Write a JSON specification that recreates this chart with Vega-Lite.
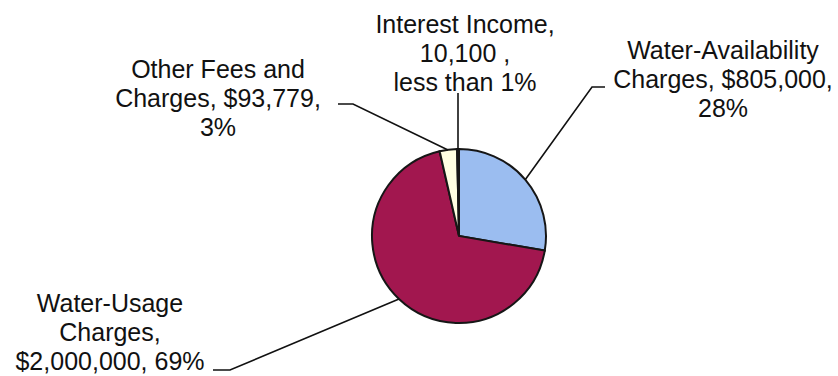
{
  "$schema": "https://vega.github.io/schema/vega-lite/v6.json",
  "width": 838,
  "height": 376,
  "autosize": {"type": "none"},
  "padding": 0,
  "background": "white",
  "config": {"view": {"stroke": null}},
  "datasets": {
    "slices": [
      {"category": "Water-Availability Charges", "value": 805000},
      {"category": "Water-Usage Charges", "value": 2000000},
      {"category": "Other Fees and Charges", "value": 93779},
      {"category": "Interest Income", "value": 10100}
    ],
    "labels": [
      {"category": "Water-Availability Charges", "label": "Water-Availability\nCharges, $805,000,\n28%", "x": 264, "y": 185},
      {"category": "Water-Usage Charges", "label": "Water-Usage\nCharges,\n$2,000,000, 69%", "x": -349, "y": -68},
      {"category": "Other Fees and Charges", "label": "Other Fees and\nCharges, $93,779,\n3%", "x": -241, "y": 166},
      {"category": "Interest Income", "label": "Interest Income,\n10,100 ,\nless than 1%", "x": 6, "y": 211}
    ],
    "leaders": [
      {"category": "Water-Availability Charges", "pt": 0, "x": 66, "y": 56},
      {"category": "Water-Availability Charges", "pt": 1, "x": 133, "y": 149},
      {"category": "Water-Availability Charges", "pt": 2, "x": 146, "y": 149},
      {"category": "Water-Usage Charges", "pt": 0, "x": -60, "y": -63},
      {"category": "Water-Usage Charges", "pt": 1, "x": -229, "y": -134},
      {"category": "Water-Usage Charges", "pt": 2, "x": -246, "y": -134},
      {"category": "Other Fees and Charges", "pt": 0, "x": -11, "y": 86},
      {"category": "Other Fees and Charges", "pt": 1, "x": -106, "y": 132},
      {"category": "Other Fees and Charges", "pt": 2, "x": -121, "y": 132},
      {"category": "Interest Income", "pt": 0, "x": -1, "y": 87},
      {"category": "Interest Income", "pt": 1, "x": -1, "y": 143}
    ]
  },
  "layer": [
    {
      "data": {"name": "slices"},
      "transform": [{"window": [{"op": "row_number", "as": "idx"}]}],
      "mark": {"type": "arc", "outerRadius": 87, "stroke": "#161616", "strokeWidth": 2},
      "encoding": {
        "theta": {"field": "value", "type": "quantitative", "stack": true},
        "order": {"field": "idx", "type": "quantitative"},
        "color": {
          "field": "category",
          "type": "nominal",
          "legend": null,
          "scale": {
            "domain": ["Water-Availability Charges", "Water-Usage Charges", "Other Fees and Charges", "Interest Income"],
            "range": ["#9bbdf0", "#a2174f", "#ffffe2", "#ffffe2"]
          }
        },
        "x": {"datum": 0, "type": "quantitative", "scale": {"domain": [-459, 379], "nice": false, "zero": false}, "axis": null},
        "y": {"datum": 0, "type": "quantitative", "scale": {"domain": [-140, 236], "nice": false, "zero": false}, "axis": null}
      }
    },
    {
      "data": {"name": "leaders"},
      "mark": {"type": "line", "color": "#111111", "strokeWidth": 1.6},
      "encoding": {
        "x": {"field": "x", "type": "quantitative", "scale": {"domain": [-459, 379], "nice": false, "zero": false}, "axis": null},
        "y": {"field": "y", "type": "quantitative", "scale": {"domain": [-140, 236], "nice": false, "zero": false}, "axis": null},
        "detail": {"field": "category"},
        "order": {"field": "pt", "type": "quantitative"}
      }
    },
    {
      "data": {"name": "labels"},
      "mark": {"type": "text", "font": "Liberation Sans", "fontSize": 25, "lineHeight": 29, "lineBreak": "\n", "align": "center", "baseline": "middle", "color": "#111111"},
      "encoding": {
        "x": {"field": "x", "type": "quantitative", "scale": {"domain": [-459, 379], "nice": false, "zero": false}, "axis": null},
        "y": {"field": "y", "type": "quantitative", "scale": {"domain": [-140, 236], "nice": false, "zero": false}, "axis": null},
        "text": {"field": "label"}
      }
    }
  ]
}
